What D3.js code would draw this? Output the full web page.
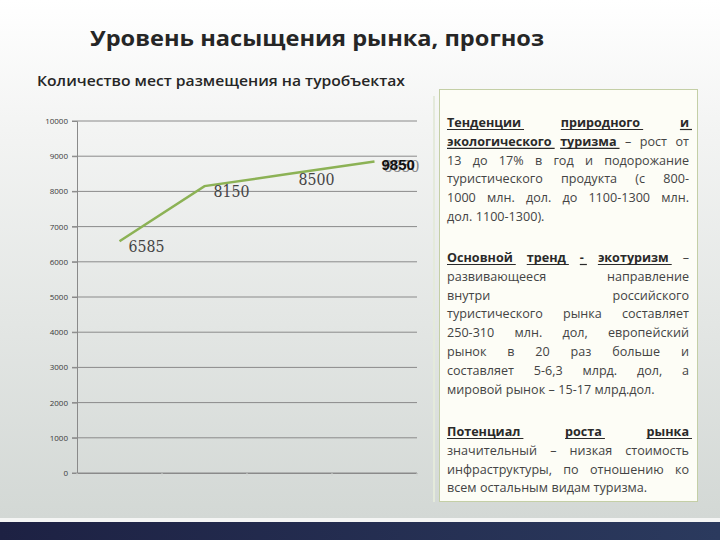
<!DOCTYPE html>
<html>
<head>
<meta charset="utf-8">
<script src="https://cdn.jsdelivr.net/npm/d3@7"></script>
<style>
  html, body { margin: 0; padding: 0; background: #fff; }
  #chart { width: 720px; height: 540px; }
</style>
</head>
<body>
<div id="chart"></div>
<script>
// chart data
var categories = ["1", "2", "3", "4"];
var values = [6585, 8150, 8500, 8850];
var labels = ["6585", "8150", "8500", "8850"];
var overLabel = "9850";   // bold label drawn on top of the last one
var yTicks = [0, 1000, 2000, 3000, 4000, 5000, 6000, 7000, 8000, 9000, 10000];

var title = "Уровень насыщения рынка, прогноз";
var subtitle = "Количество мест размещения на туробъектах";

// side text, *word* = bold + underlined
var paragraphs = [
  ["*Тенденции* *природного* *и*",
   "*экологического* *туризма* – рост от",
   "13 до 17% в год и подорожание",
   "туристического продукта (с 800-",
   "1000 млн. дол. до 1100-1300 млн.",
   "дол. 1100-1300)."],
  ["*Основной* *тренд* *-* *экотуризм* –",
   "развивающееся направление",
   "внутри российского",
   "туристического рынка составляет",
   "250-310 млн. дол, европейский",
   "рынок в 20 раз больше и",
   "составляет 5-6,3 млрд. дол, а",
   "мировой рынок – 15-17 млрд.дол."],
  ["*Потенциал* *роста* *рынка*",
   "значительный – низкая стоимость",
   "инфраструктуры, по отношению ко",
   "всем остальным видам туризма."]
];

var W = 720, H = 540;
var svg = d3.select("#chart").append("svg")
  .attr("width", W).attr("height", H);

var defs = svg.append("defs");
var bg = defs.append("linearGradient").attr("id", "bg")
  .attr("x1", 0).attr("y1", 0).attr("x2", 0).attr("y2", 1);
bg.append("stop").attr("offset", "0%").attr("stop-color", "#ffffff");
bg.append("stop").attr("offset", "25%").attr("stop-color", "#f3f4f3");
bg.append("stop").attr("offset", "100%").attr("stop-color", "#d3d8d5");
var bar = defs.append("linearGradient").attr("id", "bar")
  .attr("x1", 0).attr("y1", 0).attr("x2", 1).attr("y2", 0);
bar.append("stop").attr("offset", "0%").attr("stop-color", "#1d2143");
bar.append("stop").attr("offset", "100%").attr("stop-color", "#2b3a5e");

svg.append("rect").attr("width", W).attr("height", 518).attr("fill", "url(#bg)");
svg.append("rect").attr("y", 518).attr("width", W).attr("height", 4).attr("fill", "#f4f5f4");
svg.append("rect").attr("y", 522).attr("width", W).attr("height", 18).attr("fill", "url(#bar)");

// titles
svg.append("text").attr("x", 90).attr("y", 46)
  .attr("font-family", "Open Sans").attr("font-weight", "bold")
  .attr("font-size", 22).attr("fill", "#262626")
  .attr("textLength", 454).attr("lengthAdjust", "spacingAndGlyphs")
  .text(title);
svg.append("text").attr("x", 37).attr("y", 86)
  .attr("font-family", "Open Sans").attr("font-weight", 600)
  .attr("font-size", 15).attr("fill", "#262626")
  .attr("textLength", 368).attr("lengthAdjust", "spacingAndGlyphs")
  .text(subtitle);

// faint frame line of chart area
svg.append("line").attr("x1", 434).attr("x2", 434).attr("y1", 96).attr("y2", 502)
  .attr("stroke", "#e4eadb").attr("stroke-width", 2);

// chart
var x = d3.scaleBand().domain(categories).range([77, 417]);
var y = d3.scaleLinear().domain([0, 10000]).range([473, 121]);

var grid = svg.append("g");
grid.selectAll("line").data(yTicks).enter().append("line")
  .attr("x1", 72).attr("x2", 417)
  .attr("y1", function(d) { return y(d); })
  .attr("y2", function(d) { return y(d); })
  .attr("stroke", "#8a8a8a").attr("stroke-width", 1);

var yAxis = svg.append("g").attr("transform", "translate(77,0)")
  .call(d3.axisLeft(y).tickValues(yTicks).tickSize(5).tickFormat(d3.format("d")));
yAxis.select(".domain").attr("stroke", "#8a8a8a");
yAxis.selectAll(".tick line").attr("stroke", "#8a8a8a");
yAxis.selectAll("text").attr("font-family", "Open Sans").attr("font-size", 8)
  .attr("fill", "#3a3a3a").attr("x", -9);

var xAxis = svg.append("g").attr("transform", "translate(0," + y(0) + ")")
  .call(d3.axisBottom(x).tickSize(0).tickFormat(""));
xAxis.select(".domain").attr("stroke", "#8a8a8a");
xAxis.selectAll(".sep").data(categories.concat(["end"])).enter().append("line")
  .attr("x1", function(d, i) { return 77 + i * x.bandwidth(); })
  .attr("x2", function(d, i) { return 77 + i * x.bandwidth(); })
  .attr("y1", 0).attr("y2", 3).attr("stroke", "#cfd3d0");

var pts = categories.map(function(c, i) { return { c: c, v: values[i], l: labels[i] }; });
var line = d3.line()
  .x(function(d) { return x(d.c) + x.bandwidth() / 2; })
  .y(function(d) { return y(d.v); });
svg.append("path").datum(pts).attr("d", line)
  .attr("fill", "none").attr("stroke", "#8cb255").attr("stroke-width", 2.5);

svg.selectAll(".lbl").data(pts).enter().append("text")
  .attr("x", function(d) { return x(d.c) + x.bandwidth() / 2 + 9; })
  .attr("y", function(d) { return y(d.v) + 11; })
  .attr("font-family", "DejaVu Serif").attr("font-size", 16)
  .attr("fill", function(d, i) { return i === 3 ? "#888" : "#444"; })
  .attr("textLength", 36).attr("lengthAdjust", "spacingAndGlyphs")
  .text(function(d) { return d.l; });
var last = pts[pts.length - 1];
svg.append("text")
  .attr("x", x(last.c) + x.bandwidth() / 2 + 7)
  .attr("y", y(last.v) + 9)
  .attr("font-family", "Liberation Sans").attr("font-weight", "bold").attr("font-size", 15)
  .attr("fill", "#111")
  .text(overLabel);

// side text box
svg.append("rect").attr("x", 439.5).attr("y", 89.5).attr("width", 258).attr("height", 412)
  .attr("fill", "#fdfdf6").attr("stroke", "#c4cfa6").attr("stroke-width", 1);

var tx0 = 447, tx1 = 689, fs = 12.6, lh = 18.8;
var paraTop = [127, 262, 436];
var tg = svg.append("g").attr("font-family", "Open Sans").attr("font-size", fs).attr("fill", "#444");

paragraphs.forEach(function(p, pi) {
  p.forEach(function(ln, li) {
    var by = paraTop[pi] + li * lh;
    var words = ln.split(" ").map(function(w) {
      var b = w.charAt(0) === "*";
      return { t: b ? w.replace(/\*/g, "") : w, b: b };
    });
    var nodes = words.map(function(w) {
      return tg.append("text").attr("y", by)
        .attr("font-weight", w.b ? "bold" : "normal")
        .attr("fill", w.b ? "#2a2a2a" : "#444")
        .text(w.t);
    });
    var widths = nodes.map(function(n) { return n.node().getComputedTextLength(); });
    var total = d3.sum(widths);
    var isLast = li === p.length - 1;
    var gap = (!isLast && words.length > 1) ? (tx1 - tx0 - total) / (words.length - 1) : 3.4;
    var cx = tx0;
    nodes.forEach(function(n, i) {
      n.attr("x", cx);
      if (words[i].b) {
        tg.append("line").attr("x1", cx).attr("x2", cx + widths[i] + 3)
          .attr("y1", by + 2.5).attr("y2", by + 2.5)
          .attr("stroke", "#2a2a2a").attr("stroke-width", 1.2);
      }
      cx += widths[i] + gap;
    });
  });
});
</script>
</body>
</html>
